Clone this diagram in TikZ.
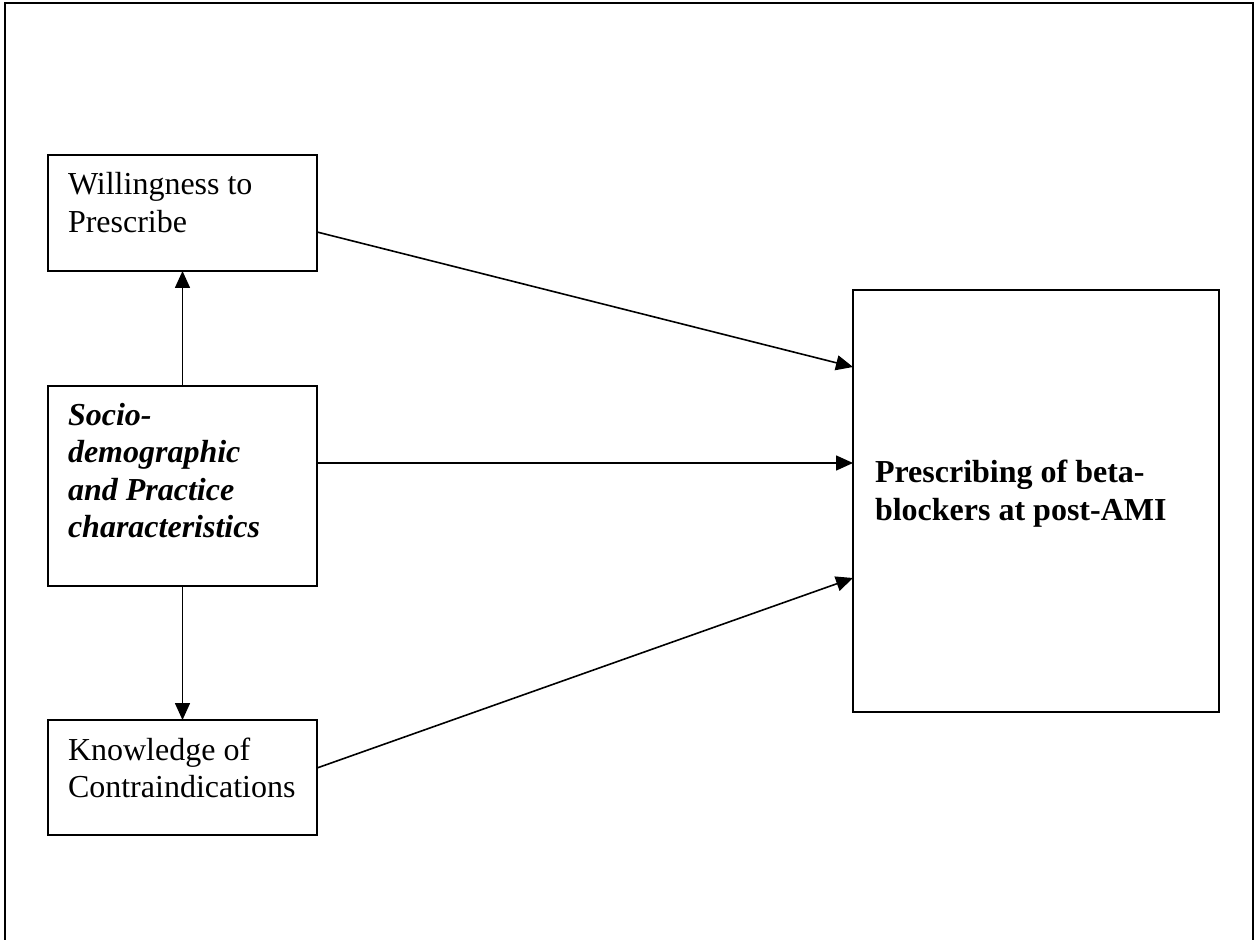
\documentclass[tikz,border=0pt]{standalone}
\usepackage{fontspec}
\setmainfont{Liberation Serif}
\usetikzlibrary{arrows.meta}
\hyphenpenalty=10000
\begin{document}
\begin{tikzpicture}[x=0.5pt,y=-0.5pt,>={Triangle[length=8.5pt,width=7.5pt]},
  font=\fontsize{16}{18.75}\selectfont,
  box/.style={draw,line width=0.9pt,outer sep=0pt,inner ysep=0pt,inner xsep=10pt,
    text width=114.5pt,align=flush left,anchor=north west}]
\useasboundingbox (0,0) rectangle (1256,940);
\draw[line width=1pt] (5,945)--(5,3)--(1253,3)--(1253,945);
\node[box,text height=20pt,text depth=38pt] (will) at (48,155) {Willingness to\\Prescribe};
\node[box,text height=19.5pt,text depth=80.5pt,font=\fontsize{16}{18.75}\selectfont\bfseries\itshape] (socio) at (48,386) {Socio-\\demographic\\and Practice\\characteristics};
\node[box,text height=20pt,text depth=37.5pt] (know) at (48,720) {Knowledge of\\Contraindications};
\node[box,text width=161pt,inner xsep=11pt,text height=96pt,text depth=115pt,font=\fontsize{16}{19}\selectfont\bfseries] (presc) at (853,290) {Prescribing of beta-\\blockers at post-AMI};
\draw[->,line width=0.8pt] (socio.north)--(will.south);
\draw[->,line width=0.8pt] (socio.south)--(know.north);
\draw[->,line width=0.8pt] ([yshift=-9.5pt]will.east)--([yshift=67pt]presc.west);
\draw[->,line width=0.8pt] ([yshift=11.5pt]socio.east)--([yshift=19pt]presc.west);
\draw[->,line width=0.8pt] ([yshift=4.75pt]know.east)--([yshift=-38.5pt]presc.west);
\end{tikzpicture}
\end{document}
